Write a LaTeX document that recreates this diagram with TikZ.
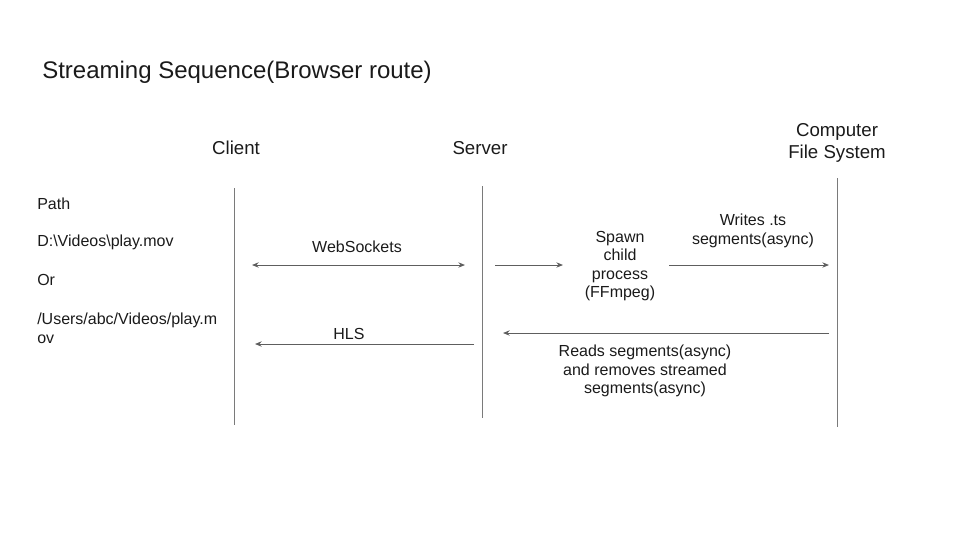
\documentclass[tikz,border=0pt]{standalone}
\usepackage{fontspec}
\setmainfont{Liberation Sans}
\usetikzlibrary{arrows.meta,positioning}
\definecolor{linegray}{HTML}{7A7A7A}
\definecolor{arrowgray}{HTML}{5E5E5E}
\definecolor{textgray}{HTML}{1A1A1A}
\tikzset{
heading/.style={font=\fontsize{18}{22}\selectfont,anchor=west,text=textgray,inner sep=0pt},
actor/.style={font=\fontsize{14}{16.5}\selectfont,align=center,text=textgray},
note/.style={font=\fontsize{12}{13.9}\selectfont,align=center,text=textgray},
pathnote/.style={font=\fontsize{12}{14.2}\selectfont,align=left,anchor=west,text=textgray,inner sep=0pt},
lifeline/.style={draw=linegray,line width=.7pt},
msg/.style={-{Stealth[length=5pt,width=4pt]},draw=arrowgray,line width=.7pt},
dmsg/.style={{Stealth[length=5pt,width=4pt]}-{Stealth[length=5pt,width=4pt]},draw=arrowgray,line width=.7pt}
}
\begin{document}
\begin{tikzpicture}[x=.75pt,y=-.75pt]
\useasboundingbox (0,0) rectangle (960,540);
\node[heading](ttl) at (42,72){Streaming Sequence(Browser route)};
% actors and lifelines
\node[actor](client) at (236,148){Client};
\node[actor](server) at (480,148){Server};
\node[actor](fs) at (837,143){Computer\\File System};
\coordinate (clienttop) at (234,188);\coordinate (clientbot) at (234,425);
\coordinate (servertop) at (482,186);\coordinate (serverbot) at (482,418);
\coordinate (fstop) at (837,178);\coordinate (fsbot) at (837,427);
\draw[lifeline](clienttop)--(clientbot);
\draw[lifeline](servertop)--(serverbot);
\draw[lifeline](fstop)--(fsbot);
% path input
\node[pathnote](path) at (37,204){Path};
\node[pathnote](winpath) at (37,242){D:\textbackslash Videos\textbackslash play.mov};
\node[pathnote](orword) at (37,280){Or};
\node[pathnote](unixpath) at (37,328){/Users/abc/Videos/play.m\\ov};
% messages
\coordinate (wsL) at (252,265);\coordinate (wsR) at (465,265);
\coordinate (hlsR) at (474,344);\coordinate (hlsL) at (255,344);
\coordinate (spawnin) at (495,265);\coordinate (spawnend) at (563,265);
\coordinate (writeL) at (669,265);\coordinate (writeR) at (829,265);
\coordinate (readR) at (829,333);\coordinate (readL) at (503,333);
\node[note](spawn) at (620,266){Spawn\\child\\process\\(FFmpeg)};
\node[note](wslabel) at (357,247){WebSockets};
\node[note](hlslabel) at (349,334){HLS};
\node[note](writelabel) at (753,231){Writes .ts\\segments(async)};
\node[note](readlabel) at (645,371){Reads segments(async)\\and removes streamed\\segments(async)};
\draw[dmsg](wsL)--(wsR);
\draw[msg](hlsR)--(hlsL);
\draw[msg](spawnin)--(spawnend);
\draw[msg](writeL)--(writeR);
\draw[msg](readR)--(readL);
\end{tikzpicture}
\end{document}
